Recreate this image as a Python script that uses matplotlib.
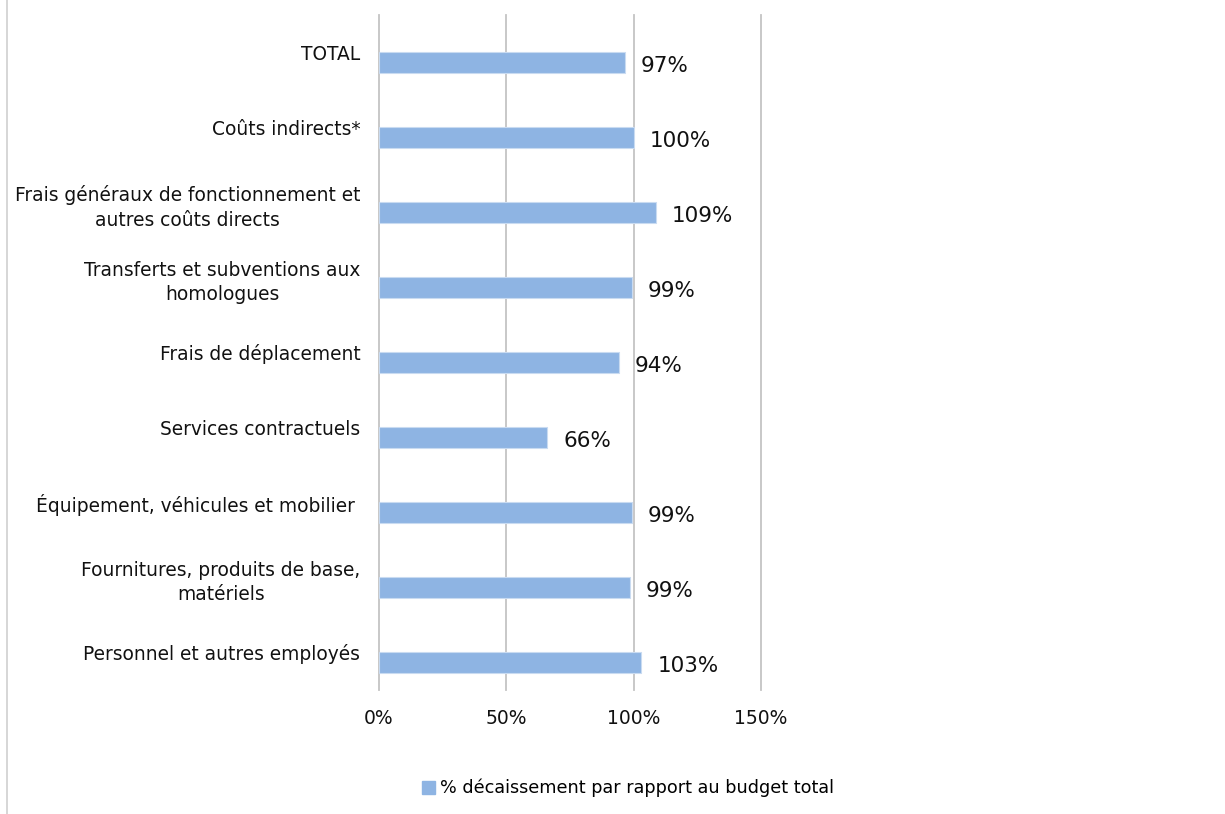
import matplotlib
matplotlib.use("Agg")
import matplotlib.pyplot as plt
from matplotlib.lines import Line2D
from matplotlib.patches import Patch

categories = [
    "TOTAL",
    "Coûts indirects*",
    "Frais généraux de fonctionnement et\nautres coûts directs",
    "Transferts et subventions aux\nhomologues",
    "Frais de déplacement",
    "Services contractuels",
    "Équipement, véhicules et mobilier ",
    "Fournitures, produits de base,\nmatériels",
    "Personnel et autres employés",
]
values = [0.966, 1.00, 1.088, 0.993, 0.942, 0.66, 0.993, 0.985, 1.03]
value_labels = ["97%", "100%", "109%", "99%", "94%", "66%", "99%", "99%", "103%"]
xticks = [0, 0.5, 1.0, 1.5]
xtick_labels = ["0%", "50%", "100%", "150%"]
legend_label = "% décaissement par rapport au budget total"

bar_color = "#8EB4E3"
grid_color = "#C4C4C4"

W, H = 1225, 814
fig = plt.figure(figsize=(W / 100, H / 100), dpi=100)
fig.patch.set_facecolor("white")

ax = fig.add_axes([379 / W, 1 - 690 / H, (761 - 379) / W, (690 - 15) / H])

pos = list(range(len(categories)))
bar_pos = [p + 0.135 for p in pos]
ax.barh(bar_pos, values, height=0.28, color=bar_color, edgecolor="#C9DBF1",
        linewidth=0.8, zorder=3)

for yp, v, lab in zip(bar_pos, values, value_labels):
    ax.annotate(lab, xy=(v, yp), xytext=(11.5, -2.5), textcoords="offset points",
                ha="left", va="center", fontsize=15.5, color="#111111")

ax.set_xlim(0, 1.5)
ax.set_ylim(len(categories) - 0.5, -0.5)
ax.set_xticks(xticks)
ax.set_xticklabels(xtick_labels, fontsize=13.5, color="#111111")
ax.set_yticks(pos)
ax.set_yticklabels(categories, fontsize=13.4, color="#111111", multialignment="center",
                   linespacing=1.4)
ax.tick_params(axis="y", length=0, pad=13.5)
ax.tick_params(axis="x", length=0, pad=14)
ax.xaxis.grid(True, color=grid_color, linewidth=1.3, zorder=0)
for gl in ax.get_xgridlines():
    gl.set_clip_on(False)
ax.set_axisbelow(True)
for s in ax.spines.values():
    s.set_visible(False)

# left border of chart area
fig.add_artist(Line2D([6.5 / W, 6.5 / W], [0, 1], color="#D0D0D0", linewidth=1.2))

handle = Patch(facecolor=bar_color, edgecolor=bar_color)
fig.legend([handle], [legend_label], loc="center", bbox_to_anchor=(628 / W, 1 - 788 / H),
           frameon=False, fontsize=12.7, handlelength=0.75, handleheight=0.75,
           handletextpad=0.3)

fig.savefig("out.png", dpi=100, facecolor="white")
